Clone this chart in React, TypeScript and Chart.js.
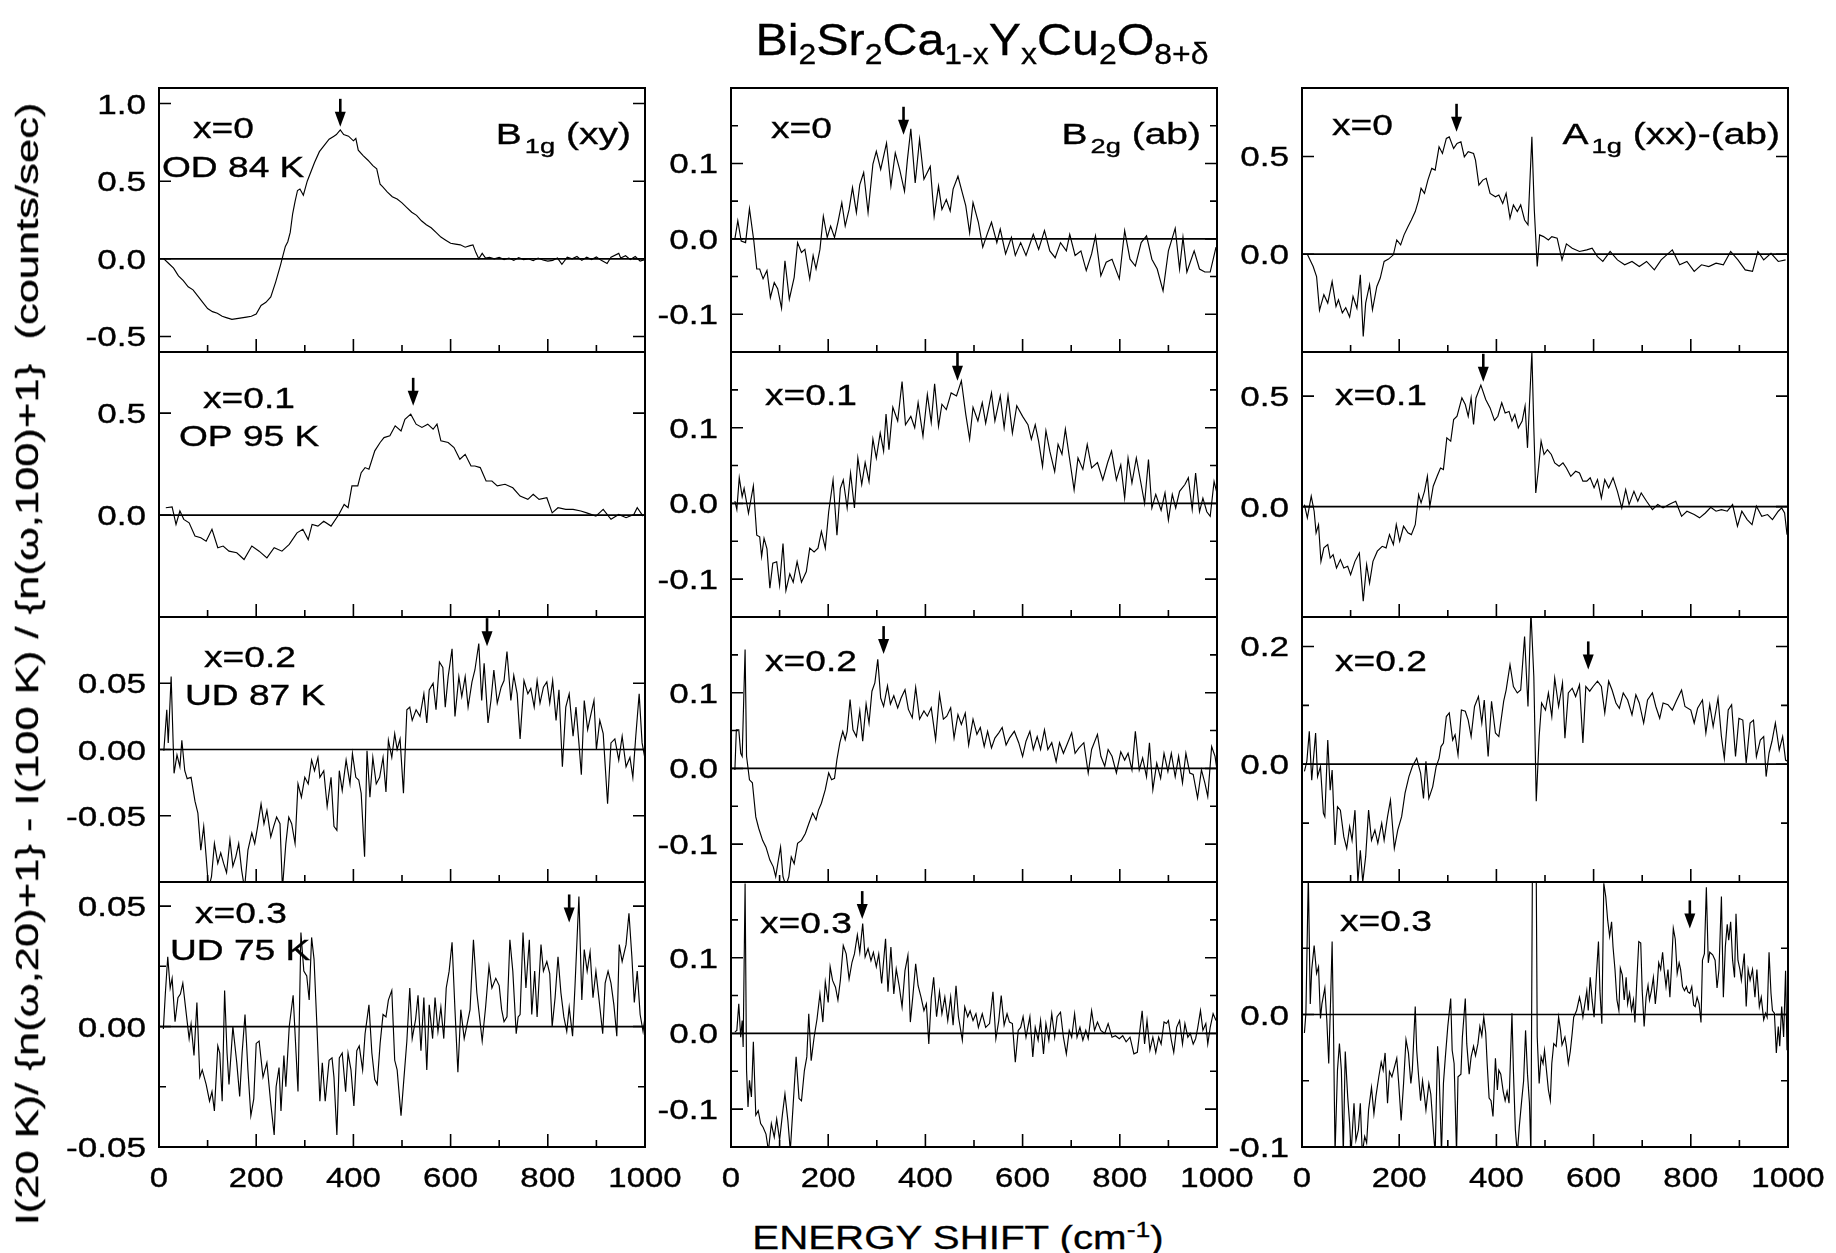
import React, { useEffect, useRef } from "react";
import { Chart, registerables } from "chart.js";
Chart.register(...registerables);

const FONT = '"Liberation Sans", Arial, Helvetica, sans-serif';

// ---------- axis ticks ----------
const ENERGY_TICKS = [0, 100, 200, 300, 400, 500, 600, 700, 800, 900, 1000];
const ENERGY_LABELS = [0, 200, 400, 600, 800, 1000];

const Y_TICKS_B1G_X00 = [1.0, 0.5, 0.0, -0.5];
const Y_TICKS_B2G = [0.1, 0.0, -0.1];
const Y_MINOR_B2G = [0.15, 0.05, -0.05];
const Y_TICKS_A1G_X00 = [0.5, 0.0];
const Y_TICKS_B1G_X01 = [0.5, 0.0];
const Y_TICKS_A1G_X01 = [0.5, 0.0];
const Y_TICKS_B1G_X02 = [0.05, 0.0, -0.05];
const Y_TICKS_A1G_X02 = [0.2, 0.0];
const Y_MINOR_A1G_X02 = [0.1, -0.1];
const Y_TICKS_B1G_X03 = [0.05, 0.0, -0.05];
const Y_MINOR_B1G_X03 = [0.025, -0.025];
const Y_TICKS_A1G_X03 = [0.0, -0.1];
const Y_MINOR_A1G_X03 = [0.05, -0.05];

// ---------- spectra [energy shift cm-1, intensity] ----------
const B1G_X00: number[][] = [[10,0],[20,-0.03],[30,-0.06],[40,-0.11],[50,-0.14],[60,-0.18],[70,-0.2],[80,-0.24],[90,-0.28],[100,-0.32],[110,-0.34],[120,-0.35],[130,-0.37],[140,-0.38],[150,-0.39],[160,-0.385],[170,-0.38],[180,-0.375],[190,-0.37],[200,-0.355],[210,-0.3],[220,-0.28],[230,-0.245],[240,-0.15],[250,-0.04],[255,0.02],[260,0.08],[265,0.11],[270,0.17],[275,0.29],[280,0.37],[285,0.44],[290,0.45],[297,0.41],[305,0.5],[310,0.54],[320,0.62],[330,0.69],[340,0.73],[350,0.77],[360,0.79],[365,0.8],[373,0.83],[380,0.8],[390,0.79],[400,0.76],[405,0.775],[410,0.7],[420,0.665],[430,0.635],[440,0.6],[448,0.58],[455,0.48],[460,0.465],[470,0.43],[480,0.4],[490,0.385],[500,0.36],[510,0.33],[520,0.3],[530,0.28],[540,0.245],[550,0.22],[560,0.2],[570,0.17],[580,0.14],[590,0.12],[600,0.1],[610,0.095],[620,0.09],[630,0.075],[640,0.085],[646,0.09],[652,0.04],[658,0.0],[665,0.035],[672,0.005],[680,0.01],[690,0.0],[700,0.01],[710,-0.005],[720,0.005],[730,-0.01],[740,0.008],[750,-0.005],[760,0.0],[770,-0.012],[780,0.005],[790,-0.008],[800,-0.015],[810,-0.01],[820,0.005],[829,-0.035],[840,0.01],[850,0.0],[860,0.015],[870,-0.01],[880,0.01],[890,-0.005],[900,0.012],[910,-0.01],[922,-0.03],[930,0.01],[946,0.035],[950,0.005],[960,0.02],[970,-0.005],[980,0.015],[990,-0.015],[1000,-0.005]];

const B2G_X00: number[][] = [[8,0],[14,0.024],[21,-0.003],[30,-0.005],[38,0.04],[47,-0.003],[53,-0.04],[59,-0.04],[66,-0.053],[74,-0.042],[81,-0.078],[89,-0.058],[96,-0.066],[104,-0.092],[111,-0.029],[120,-0.08],[130,-0.051],[137,-0.005],[145,-0.018],[152,-0.014],[162,-0.053],[169,-0.022],[175,-0.04],[183,-0.014],[190,0.03],[198,0.002],[205,0.017],[213,0.002],[220,0.022],[228,0.048],[235,0.017],[243,0.039],[250,0.068],[258,0.035],[265,0.072],[273,0.088],[282,0.035],[292,0.099],[299,0.116],[308,0.092],[320,0.127],[329,0.07],[338,0.114],[347,0.092],[357,0.063],[363,0.105],[370,0.146],[379,0.074],[388,0.132],[397,0.079],[410,0.096],[418,0.03],[427,0.07],[434,0.039],[443,0.052],[451,0.037],[457,0.066],[467,0.083],[476,0.061],[483,0.044],[491,0.008],[498,0.048],[509,0.022],[518,-0.011],[528,0.008],[536,0.022],[547,-0.005],[554,0.013],[565,-0.02],[577,0.002],[585,-0.022],[596,-0.005],[607,-0.022],[622,0.006],[633,-0.014],[645,0.011],[656,-0.016],[667,-0.025],[678,-0.005],[690,-0.016],[697,0.006],[708,-0.022],[720,-0.016],[731,-0.042],[742,-0.02],[750,0.004],[761,-0.049],[772,-0.031],[784,-0.027],[799,-0.053],[810,0.011],[821,-0.027],[832,-0.036],[844,-0.005],[855,0.004],[866,-0.027],[877,-0.04],[889,-0.069],[900,-0.016],[914,0.014],[923,-0.04],[930,0.002],[938,-0.044],[953,-0.016],[964,-0.04],[975,-0.044],[986,-0.044],[998,-0.011]];

const A1G_X00: number[][] = [[11,0.0],[23,-0.063],[30,-0.114],[36,-0.287],[45,-0.207],[53,-0.25],[62,-0.14],[70,-0.267],[75,-0.233],[83,-0.3],[90,-0.274],[98,-0.321],[105,-0.216],[113,-0.276],[120,-0.105],[126,-0.42],[131,-0.25],[139,-0.156],[145,-0.284],[154,-0.165],[161,-0.122],[169,-0.037],[178,-0.025],[188,-0.003],[195,0.073],[203,0.048],[210,0.099],[218,0.141],[225,0.175],[233,0.218],[240,0.277],[245,0.337],[252,0.311],[259,0.379],[267,0.439],[274,0.43],[282,0.549],[289,0.515],[297,0.592],[303,0.6],[312,0.541],[319,0.566],[327,0.575],[334,0.498],[342,0.524],[353,0.515],[357,0.481],[364,0.354],[372,0.379],[379,0.388],[387,0.311],[398,0.294],[405,0.303],[413,0.26],[420,0.311],[428,0.184],[435,0.252],[443,0.218],[450,0.252],[458,0.175],[465,0.15],[473,0.6],[478,0.226],[484,-0.063],[489,0.099],[497,0.09],[507,0.073],[514,0.09],[525,0.082],[535,-0.029],[544,0.053],[556,0.031],[571,0.014],[586,0.022],[597,0.031],[608,-0.012],[619,-0.037],[634,0.014],[649,-0.029],[664,-0.054],[679,-0.037],[694,-0.063],[709,-0.037],[725,-0.08],[739,-0.029],[762,0.022],[777,-0.054],[792,-0.037],[807,-0.088],[822,-0.054],[837,-0.063],[852,-0.046],[867,-0.054],[882,0.014],[897,-0.029],[912,-0.08],[927,-0.088],[938,0.014],[950,-0.029],[965,0.005],[980,-0.037],[995,-0.029]];

const B1G_X01: number[][] = [[14,0.036],[27,0.04],[35,-0.046],[43,0.02],[51,-0.021],[62,-0.038],[74,-0.103],[86,-0.111],[97,-0.128],[109,-0.07],[121,-0.16],[132,-0.152],[144,-0.177],[160,-0.185],[175,-0.218],[191,-0.152],[206,-0.177],[222,-0.21],[237,-0.16],[253,-0.177],[268,-0.144],[284,-0.087],[296,-0.07],[307,-0.12],[315,-0.046],[327,-0.054],[339,-0.03],[354,-0.054],[370,0.003],[381,0.052],[389,0.036],[397,0.143],[409,0.143],[416,0.208],[424,0.233],[432,0.225],[444,0.315],[455,0.356],[463,0.38],[475,0.389],[486,0.438],[498,0.413],[506,0.47],[518,0.495],[529,0.446],[541,0.43],[553,0.446],[564,0.421],[572,0.446],[580,0.364],[595,0.356],[607,0.331],[619,0.274],[630,0.298],[642,0.241],[650,0.241],[661,0.233],[673,0.167],[685,0.167],[696,0.143],[712,0.151],[728,0.134],[743,0.093],[759,0.077],[770,0.102],[782,0.077],[798,0.085],[809,0.011],[821,0.036],[837,0.028],[852,0.028],[868,0.02],[880,0.011],[899,-0.005],[914,0.028],[930,-0.021],[946,0.003],[961,-0.013],[977,0.003],[984,0.036],[996,-0.005]];

const B2G_X01: number[][] = [[8,0.003],[12,-0.008],[17,0.034],[23,0.009],[27,0.02],[36,-0.013],[46,0.023],[53,-0.042],[59,-0.044],[63,-0.07],[68,-0.046],[74,-0.06],[80,-0.112],[86,-0.079],[94,-0.077],[100,-0.108],[107,-0.053],[113,-0.115],[121,-0.093],[128,-0.104],[136,-0.077],[145,-0.104],[155,-0.09],[162,-0.059],[171,-0.064],[179,-0.059],[186,-0.037],[194,-0.059],[201,-0.011],[210,0.031],[218,-0.042],[225,0.02],[231,0.031],[239,-0.006],[246,0.04],[254,-0.006],[261,0.06],[269,0.025],[276,0.054],[284,0.029],[292,0.085],[299,0.06],[307,0.093],[314,0.069],[319,0.118],[325,0.071],[333,0.127],[343,0.109],[352,0.161],[359,0.104],[370,0.115],[378,0.1],[385,0.133],[395,0.089],[404,0.144],[412,0.107],[419,0.158],[427,0.102],[434,0.131],[443,0.124],[453,0.146],[464,0.142],[474,0.162],[483,0.118],[491,0.085],[498,0.127],[508,0.109],[517,0.133],[524,0.106],[536,0.146],[543,0.109],[554,0.142],[562,0.1],[570,0.142],[579,0.093],[588,0.129],[600,0.115],[611,0.104],[618,0.085],[626,0.104],[633,0.082],[641,0.049],[648,0.096],[656,0.069],[666,0.042],[673,0.078],[681,0.065],[688,0.098],[696,0.062],[706,0.018],[714,0.06],[724,0.045],[733,0.078],[742,0.047],[754,0.054],[765,0.031],[775,0.054],[783,0.069],[793,0.031],[802,0.051],[810,0.007],[817,0.06],[825,0.027],[834,0.06],[844,0.025],[851,0.0],[859,0.058],[866,-0.006],[874,0.012],[885,-0.009],[893,0.014],[900,-0.022],[908,0.012],[915,-0.006],[923,0.016],[934,0.025],[941,0.034],[949,-0.008],[956,0.04],[964,-0.011],[971,0.007],[979,-0.011],[986,-0.017],[994,0.029],[999,0.016]];

const A1G_X01: number[][] = [[5,0.009],[11,-0.051],[19,0.047],[25,-0.021],[29,-0.119],[34,-0.082],[39,-0.248],[45,-0.187],[53,-0.172],[58,-0.233],[64,-0.218],[71,-0.278],[79,-0.24],[86,-0.278],[94,-0.27],[100,-0.308],[109,-0.248],[118,-0.21],[126,-0.429],[133,-0.263],[139,-0.346],[146,-0.248],[155,-0.202],[165,-0.18],[173,-0.187],[180,-0.127],[188,-0.172],[194,-0.082],[201,-0.157],[209,-0.089],[218,-0.119],[225,-0.127],[233,-0.082],[240,0.054],[245,0.017],[252,0.069],[258,0.137],[263,0.0],[270,0.092],[278,0.137],[285,0.175],[291,0.168],[298,0.311],[306,0.296],[312,0.394],[319,0.409],[329,0.492],[336,0.462],[342,0.409],[348,0.492],[353,0.372],[358,0.492],[368,0.55],[378,0.485],[387,0.447],[396,0.39],[403,0.409],[411,0.47],[418,0.424],[426,0.431],[432,0.387],[438,0.417],[445,0.356],[453,0.387],[459,0.455],[464,0.266],[468,0.462],[473,0.7],[477,0.356],[481,0.062],[486,0.16],[492,0.296],[498,0.236],[505,0.258],[513,0.236],[520,0.198],[529,0.183],[537,0.198],[544,0.175],[553,0.137],[563,0.16],[571,0.152],[578,0.115],[586,0.115],[593,0.13],[601,0.085],[608,0.122],[616,0.039],[623,0.122],[631,0.085],[640,0.13],[649,0.069],[658,-0.006],[666,0.077],[673,0.009],[683,0.069],[691,0.024],[698,0.062],[709,0.024],[721,-0.014],[732,0.009],[743,-0.006],[755,0.009],[769,0.024],[781,-0.044],[792,-0.021],[807,-0.036],[818,-0.051],[830,-0.029],[841,-0.003],[852,-0.021],[863,-0.014],[875,-0.021],[886,0.009],[896,-0.089],[905,-0.021],[916,-0.059],[926,-0.082],[935,0.002],[946,-0.044],[958,-0.036],[968,-0.059],[980,-0.021],[987,-0.006],[993,-0.029],[998,-0.127]];

const B1G_X02: number[][] = [[10,-0.001],[16,0.03],[19,0.005],[25,0.055],[31,-0.018],[37,-0.004],[43,-0.013],[47,0.007],[53,-0.016],[58,-0.022],[66,-0.021],[74,-0.039],[80,-0.048],[86,-0.076],[92,-0.058],[97,-0.081],[102,-0.105],[108,-0.096],[114,-0.071],[121,-0.086],[127,-0.078],[133,-0.086],[139,-0.093],[146,-0.068],[152,-0.088],[158,-0.081],[164,-0.071],[170,-0.091],[176,-0.105],[183,-0.076],[191,-0.063],[197,-0.071],[203,-0.058],[210,-0.041],[216,-0.056],[222,-0.046],[230,-0.066],[236,-0.058],[242,-0.051],[249,-0.056],[254,-0.105],[261,-0.071],[267,-0.051],[273,-0.056],[280,-0.071],[286,-0.026],[293,-0.036],[300,-0.021],[307,-0.026],[314,-0.008],[320,-0.016],[327,-0.006],[331,-0.021],[339,-0.016],[346,-0.043],[354,-0.021],[360,-0.058],[366,-0.061],[371,-0.016],[377,-0.031],[385,-0.008],[393,-0.026],[398,-0.003],[405,-0.021],[411,-0.023],[416,-0.033],[423,-0.081],[428,-0.001],[434,-0.036],[440,-0.006],[447,-0.026],[454,-0.021],[461,-0.006],[467,-0.032],[472,0.007],[479,-0.006],[485,0.012],[490,0.0],[496,0.008],[503,-0.033],[510,0.03],[516,0.032],[521,0.022],[529,0.03],[537,0.025],[545,0.042],[551,0.02],[556,0.045],[564,0.05],[570,0.03],[577,0.066],[584,0.062],[589,0.032],[595,0.055],[603,0.076],[609,0.025],[617,0.055],[623,0.04],[630,0.055],[636,0.032],[644,0.051],[650,0.06],[658,0.08],[664,0.037],[669,0.065],[677,0.02],[683,0.037],[689,0.06],[696,0.035],[704,0.047],[710,0.052],[716,0.074],[724,0.037],[730,0.056],[737,0.042],[743,0.008],[751,0.052],[759,0.042],[765,0.046],[772,0.032],[778,0.052],[784,0.035],[791,0.047],[798,0.051],[804,0.035],[810,0.052],[817,0.022],[823,0.045],[830,-0.013],[837,0.032],[844,0.042],[852,0.01],[858,0.032],[864,0.005],[869,-0.019],[875,0.037],[882,0.015],[889,0.027],[895,0.037],[900,0.0],[907,0.022],[914,0.012],[923,-0.041],[930,0.005],[938,0.008],[946,-0.008],[953,0.01],[961,-0.013],[969,-0.006],[975,-0.021],[981,0.01],[988,0.042],[994,0.005],[1000,-0.007]];

const B2G_X02: number[][] = [[8,-0.002],[11,0.051],[16,0.051],[20,0.02],[23,0.016],[29,0.157],[32,0.016],[38,-0.015],[44,-0.019],[51,-0.064],[57,-0.079],[65,-0.095],[72,-0.104],[80,-0.121],[87,-0.13],[92,-0.143],[98,-0.119],[102,-0.104],[107,-0.143],[113,-0.155],[119,-0.143],[124,-0.117],[130,-0.126],[137,-0.099],[145,-0.095],[153,-0.086],[160,-0.073],[168,-0.059],[175,-0.068],[180,-0.055],[186,-0.046],[194,-0.028],[201,-0.006],[207,-0.015],[213,-0.013],[218,0.012],[224,0.034],[230,0.049],[235,0.038],[239,0.049],[245,0.091],[251,0.051],[258,0.042],[265,0.076],[271,0.036],[278,0.085],[284,0.06],[290,0.102],[296,0.113],[302,0.144],[308,0.093],[314,0.082],[322,0.109],[328,0.085],[335,0.096],[343,0.08],[350,0.093],[358,0.104],[365,0.078],[373,0.067],[380,0.107],[388,0.065],[397,0.076],[404,0.069],[412,0.08],[421,0.038],[429,0.098],[437,0.065],[444,0.069],[452,0.08],[459,0.04],[467,0.071],[474,0.058],[482,0.073],[489,0.031],[498,0.065],[506,0.045],[513,0.054],[521,0.029],[528,0.049],[536,0.027],[543,0.04],[551,0.047],[558,0.054],[566,0.031],[573,0.04],[583,0.049],[592,0.034],[600,0.016],[607,0.036],[615,0.049],[622,0.025],[630,0.042],[637,0.025],[645,0.051],[652,0.025],[660,0.034],[669,0.009],[676,0.034],[684,0.02],[691,0.031],[701,0.047],[708,0.02],[716,0.027],[726,0.034],[735,-0.006],[742,0.025],[754,0.045],[761,0.016],[769,0.003],[776,0.025],[784,0.016],[793,-0.006],[802,0.022],[810,0.011],[817,0.02],[825,-0.002],[832,0.049],[840,-0.002],[847,0.014],[855,-0.011],[861,0.034],[868,-0.028],[876,0.007],[884,-0.013],[891,0.02],[899,-0.004],[906,0.02],[914,-0.011],[921,0.016],[929,-0.019],[936,0.02],[944,-0.006],[951,-0.008],[960,-0.039],[968,-0.002],[975,-0.019],[981,-0.037],[989,0.029],[996,0.016],[1000,-0.002]];

const A1G_X02: number[][] = [[5,-0.012],[10,0.005],[15,0.056],[20,-0.027],[28,0.053],[32,-0.021],[38,-0.004],[44,-0.083],[47,-0.089],[53,0.041],[58,-0.044],[62,-0.01],[68,-0.137],[73,-0.072],[79,-0.078],[86,-0.123],[92,-0.143],[98,-0.106],[103,-0.129],[109,-0.078],[115,-0.2],[120,-0.146],[125,-0.2],[131,-0.157],[137,-0.078],[143,-0.129],[150,-0.112],[156,-0.134],[164,-0.1],[169,-0.129],[176,-0.089],[182,-0.061],[190,-0.143],[197,-0.112],[205,-0.089],[212,-0.049],[220,-0.021],[227,-0.004],[236,0.01],[244,-0.015],[250,-0.058],[255,0.005],[261,-0.058],[269,-0.038],[276,-0.004],[282,0.01],[286,0.03],[291,0.036],[297,0.081],[303,0.087],[310,0.041],[315,0.05],[321,0.016],[328,0.092],[336,0.09],[342,0.075],[348,0.047],[355,0.098],[363,0.115],[370,0.07],[375,0.109],[383,0.013],[390,0.107],[398,0.053],[405,0.047],[415,0.107],[420,0.126],[428,0.169],[435,0.132],[443,0.121],[450,0.126],[458,0.217],[465,0.098],[471,0.26],[477,0.149],[482,-0.063],[488,0.047],[493,0.104],[501,0.092],[507,0.121],[514,0.081],[520,0.146],[528,0.098],[536,0.138],[541,0.044],[548,0.121],[556,0.129],[563,0.115],[571,0.135],[578,0.036],[584,0.132],[592,0.124],[599,0.132],[608,0.141],[616,0.132],[623,0.087],[631,0.141],[638,0.126],[646,0.104],[653,0.095],[661,0.121],[670,0.109],[679,0.084],[687,0.118],[694,0.104],[703,0.07],[711,0.109],[721,0.121],[728,0.098],[736,0.078],[743,0.104],[753,0.101],[762,0.092],[770,0.107],[781,0.126],[788,0.098],[800,0.092],[807,0.07],[814,0.095],[824,0.109],[831,0.053],[839,0.101],[846,0.064],[856,0.112],[863,0.047],[869,0.01],[877,0.092],[884,0.101],[892,0.013],[899,0.078],[907,0.075],[914,0.002],[922,0.07],[929,0.075],[935,0.013],[943,0.041],[950,0.047],[955,-0.021],[961,0.019],[967,0.039],[974,0.07],[982,0.024],[989,0.047],[995,0.007],[999,0.005]];

const B1G_X03: number[][] = [[9,-0.001],[13,0.0135],[18,0.029],[23,0.016],[27,0.02],[33,0.002],[39,0.012],[44,0.0135],[49,0.018],[54,0.009],[62,-0.005],[66,0.001],[72,-0.012],[78,0.01],[84,-0.021],[89,-0.018],[97,-0.024],[104,-0.031],[109,-0.027],[114,-0.035],[121,-0.008],[125,-0.011],[130,-0.031],[135,0.015],[140,-0.011],[144,-0.024],[152,0.0],[160,-0.015],[166,-0.029],[171,-0.011],[177,0.005],[183,-0.018],[189,-0.037],[195,-0.03],[200,-0.007],[206,-0.006],[214,-0.021],[222,-0.015],[230,-0.032],[237,-0.045],[241,-0.025],[247,-0.017],[251,-0.035],[257,-0.012],[261,-0.025],[268,0.0],[276,0.013],[282,-0.011],[286,-0.027],[292,0.039],[298,0.023],[304,0.021],[309,0.011],[314,0.037],[319,0.028],[325,0.0],[331,-0.031],[336,-0.015],[342,-0.031],[350,-0.014],[356,-0.013],[360,-0.021],[366,-0.045],[371,-0.013],[377,-0.011],[384,-0.027],[389,-0.011],[395,-0.018],[401,-0.033],[407,-0.01],[412,-0.008],[419,-0.018],[424,-0.003],[432,0.009],[438,-0.011],[444,-0.022],[449,-0.024],[455,-0.007],[461,0.005],[467,0.004],[472,0.011],[479,0.015],[485,-0.014],[490,-0.018],[498,-0.037],[503,-0.024],[510,-0.006],[516,0.016],[521,-0.005],[528,0.003],[533,0.013],[539,-0.01],[545,0.012],[551,-0.018],[556,0.009],[563,-0.005],[568,0.012],[574,-0.002],[580,0.008],[586,-0.005],[591,0.016],[597,0.023],[603,0.035],[609,0.007],[615,-0.019],[621,0.007],[628,-0.005],[634,0.001],[640,0.007],[647,0.036],[654,0.014],[659,0.005],[665,-0.006],[672,0.008],[679,0.025],[685,0.016],[693,0.02],[700,0.017],[705,0.007],[710,0.002],[716,0.004],[722,0.036],[728,0.023],[735,-0.003],[739,0.004],[743,0.005],[749,0.039],[755,0.016],[762,0.036],[767,0.005],[773,0.023],[778,0.004],[786,0.034],[791,0.023],[798,0.027],[804,0.022],[809,0.0],[815,0.012],[821,0.029],[827,0.014],[833,0.004],[839,-0.002],[844,0.008],[851,-0.004],[856,0.017],[864,0.054],[870,0.011],[875,0.032],[881,0.023],[887,0.031],[893,0.012],[899,0.023],[905,0.012],[913,-0.003],[918,0.018],[924,0.023],[930,0.018],[936,0.009],[942,-0.004],[947,0.034],[953,0.027],[961,0.034],[967,0.047],[973,0.029],[978,0.01],[984,0.023],[990,0.005],[996,-0.002],[1000,0.004]];

const B2G_X03: number[][] = [[8,0.002],[12,0.004],[16,0.039],[20,-0.005],[23,0.017],[25,-0.018],[29,0.198],[32,-0.049],[35,-0.097],[38,-0.062],[42,-0.084],[46,-0.011],[51,-0.108],[56,-0.102],[61,-0.119],[66,-0.124],[72,-0.133],[77,-0.155],[83,-0.119],[89,-0.137],[94,-0.113],[100,-0.141],[106,-0.106],[111,-0.08],[117,-0.115],[122,-0.155],[128,-0.093],[134,-0.031],[140,-0.086],[145,-0.089],[151,-0.049],[156,-0.031],[160,0.026],[165,-0.036],[171,-0.005],[177,0.019],[183,0.052],[189,0.015],[194,0.068],[200,0.041],[204,0.088],[209,0.07],[215,0.061],[220,0.044],[225,0.07],[231,0.116],[237,0.105],[243,0.072],[249,0.094],[254,0.105],[260,0.13],[265,0.107],[271,0.145],[276,0.101],[282,0.112],[288,0.096],[293,0.107],[299,0.088],[304,0.105],[310,0.066],[318,0.125],[323,0.055],[329,0.114],[335,0.052],[340,0.085],[346,0.063],[352,0.035],[358,0.083],[364,0.103],[369,0.015],[374,0.048],[380,0.092],[385,0.063],[391,0.048],[397,0.03],[402,0.039],[407,-0.014],[412,0.046],[417,0.074],[423,0.022],[429,0.055],[434,0.026],[440,0.048],[446,0.017],[452,0.048],[457,0.011],[463,0.063],[468,0.022],[476,-0.009],[481,0.035],[487,0.022],[492,0.03],[498,0.017],[504,0.026],[509,0.008],[517,0.026],[524,0.008],[532,0.013],[539,0.055],[545,-0.007],[551,0.017],[556,0.05],[562,0.011],[568,0.026],[573,0.015],[579,0.013],[585,-0.038],[591,0.004],[596,0.008],[601,0.022],[607,-0.005],[615,0.022],[621,-0.031],[626,0.008],[632,-0.009],[637,0.017],[643,-0.027],[648,0.013],[654,-0.009],[660,0.026],[666,-0.005],[671,0.022],[678,0.028],[684,-0.005],[690,-0.027],[696,0.004],[701,-0.005],[707,0.026],[712,-0.005],[718,0.008],[724,-0.009],[730,0.004],[735,-0.007],[742,0.03],[748,0.004],[754,0.015],[761,0.004],[769,0.0],[776,0.013],[784,-0.005],[791,-0.003],[799,-0.007],[806,-0.003],[813,-0.011],[821,-0.005],[829,-0.027],[836,-0.025],[842,0.008],[846,0.03],[851,-0.014],[856,0.017],[862,-0.022],[868,-0.005],[874,-0.025],[880,-0.005],[885,-0.014],[891,0.015],[896,0.013],[900,0.017],[906,-0.009],[911,-0.025],[917,0.008],[923,0.017],[929,-0.014],[934,0.013],[940,-0.005],[945,0.0],[951,-0.014],[956,-0.007],[960,0.006],[966,0.03],[971,0.004],[977,0.013],[981,-0.014],[986,0.008],[992,0.026],[998,0.017]];

const A1G_X03: number[][] = [[5,-0.014],[8,0.001],[13,0.105],[17,0.008],[20,0.034],[25,0.052],[30,0.031],[34,0.036],[38,-0.003],[41,0.008],[47,0.02],[51,-0.004],[55,-0.037],[59,0.013],[62,0.055],[65,-0.017],[68,-0.105],[73,-0.042],[77,-0.022],[81,-0.042],[85,-0.105],[89,-0.028],[94,-0.062],[98,-0.082],[101,-0.105],[107,-0.067],[111,-0.095],[116,-0.087],[120,-0.067],[124,-0.105],[129,-0.092],[133,-0.097],[137,-0.072],[143,-0.055],[148,-0.075],[152,-0.062],[158,-0.047],[163,-0.036],[167,-0.042],[171,-0.029],[176,-0.067],[180,-0.043],[185,-0.047],[190,-0.04],[195,-0.033],[199,-0.052],[204,-0.08],[209,-0.052],[214,-0.019],[219,-0.029],[224,-0.052],[227,-0.042],[233,0.006],[236,-0.027],[240,-0.047],[244,-0.065],[248,-0.05],[252,-0.062],[255,-0.072],[261,-0.052],[265,-0.06],[270,-0.086],[274,-0.105],[279,-0.024],[282,-0.042],[287,-0.105],[291,-0.052],[295,-0.032],[300,-0.009],[306,0.012],[309,-0.027],[313,-0.037],[318,-0.105],[321,-0.047],[327,-0.045],[330,-0.017],[336,0.012],[339,-0.022],[344,-0.045],[348,-0.032],[353,-0.024],[357,-0.031],[362,-0.022],[366,-0.009],[370,-0.016],[374,-0.002],[378,-0.014],[381,-0.037],[385,-0.063],[389,-0.065],[393,-0.077],[398,-0.033],[402,-0.057],[405,-0.042],[409,-0.045],[414,-0.058],[418,-0.065],[422,-0.058],[426,-0.067],[432,0.001],[435,-0.042],[439,-0.087],[443,-0.105],[447,-0.085],[452,-0.065],[456,-0.05],[460,-0.012],[464,-0.045],[468,-0.067],[471,-0.105],[474,0.105],[478,0.105],[482,0.105],[484,-0.017],[488,-0.052],[492,-0.032],[496,-0.037],[499,-0.027],[503,-0.042],[507,-0.057],[511,-0.065],[514,-0.037],[518,-0.022],[523,-0.024],[528,-0.002],[532,-0.012],[535,-0.023],[541,-0.017],[544,-0.024],[548,-0.037],[552,-0.028],[556,-0.014],[559,-0.002],[565,0.003],[571,0.013],[574,0.008],[578,-0.002],[582,0.008],[586,0.018],[589,0.003],[593,0.028],[597,0.011],[601,-0.002],[606,0.031],[610,0.055],[613,0.018],[617,-0.007],[621,0.099],[625,0.089],[629,0.071],[633,0.059],[637,0.07],[640,0.051],[644,0.034],[648,0.011],[652,0.003],[655,0.035],[659,0.03],[663,0.011],[667,0.028],[670,0.008],[674,0.016],[678,0.003],[682,0.011],[685,-0.006],[689,0.026],[693,0.055],[697,0.054],[700,0.018],[704,-0.009],[708,0.013],[712,0.022],[715,0.011],[719,0.018],[723,0.028],[727,0.008],[731,0.023],[734,0.039],[738,0.034],[742,0.047],[745,0.034],[749,0.021],[753,0.034],[757,0.013],[760,0.034],[764,0.065],[768,0.057],[772,0.031],[776,0.039],[779,0.034],[783,0.021],[787,0.018],[791,0.021],[794,0.017],[798,0.016],[802,0.021],[806,0.007],[809,0.006],[813,0.013],[817,0.008],[821,-0.006],[824,0.041],[828,0.046],[832,0.096],[836,0.039],[839,0.047],[845,0.045],[850,0.041],[854,0.02],[858,0.034],[863,0.089],[867,0.013],[871,0.051],[875,0.068],[878,0.056],[882,0.07],[886,0.041],[890,0.028],[893,0.076],[897,0.041],[901,0.034],[904,0.026],[910,0.046],[914,0.006],[918,0.034],[922,0.026],[927,0.034],[932,0.013],[936,0.034],[941,0.006],[945,0.013],[950,-0.004],[954,0.001],[957,-0.002],[961,0.047],[965,0.016],[968,0.003],[972,0.001],[976,-0.029],[980,-0.009],[983,-0.024],[987,0.006],[991,-0.017],[995,0.033],[998,-0.027]];

// peak-marker arrows [energy, intensity at tip]
const ARROWS: number[][] = [
  [373, 0.85], [355, 0.138], [318, 0.626],
  [523, 0.536], [466, 0.162], [373, 0.565],
  [675, 0.078], [314, 0.151], [589, 0.161],
  [844, 0.0432], [270, 0.151], [798, 0.065],
];

const DOPING_LABELS = ["x=0", "x=0.1", "x=0.2", "x=0.3"];
const SAMPLE_LABELS = ["OD 84 K", "OP 95 K", "UD 87 K", "UD 75 K"];

// ---------- layout ----------
const COL_LEFT = [159, 731, 1302];
const ROW_TOP = [88, 352, 617, 882];
const ROW_H = [264, 265, 265, 265];
const PLOT_W = 486;
const PAD_L = 120, PAD_T = 20, PAD_R = 44;
const TICK_FS = 27, TICK_SX = 1.3;
const XTICK_FS = 27, XTICK_SX = 1.22;
const ANN_FS = 29, ANN_SX = 1.28;
const TTL_FS = 30, TTL_SUB_FS = 21, TTL_SX = 1.3;

type TitlePart = { t: string; sub?: boolean };
type PanelCfg = {
  row: number; col: number; data: number[][];
  yMin: number; yMax: number; major: number[]; minor: number[]; dec: number;
  texts: { t: string; x: number; y: number }[];
  title?: { parts: TitlePart[]; right: number; y: number };
};

const B1G_TITLE: TitlePart[] = [{ t: "B" }, { t: "1g", sub: true }, { t: " (xy)" }];
const B2G_TITLE: TitlePart[] = [{ t: "B" }, { t: "2g", sub: true }, { t: " (ab)" }];
const A1G_TITLE: TitlePart[] = [{ t: "A" }, { t: "1g", sub: true }, { t: " (xx)-(ab)" }];

const PANELS: PanelCfg[] = [
  { row: 0, col: 0, data: B1G_X00, yMin: -0.6, yMax: 1.1, major: Y_TICKS_B1G_X00, minor: [], dec: 1,
    texts: [{ t: DOPING_LABELS[0], x: 34, y: 50 }, { t: SAMPLE_LABELS[0], x: 3, y: 89 }], title: { parts: B1G_TITLE, right: 472, y: 56 } },
  { row: 0, col: 1, data: B2G_X00, yMin: -0.15, yMax: 0.2, major: Y_TICKS_B2G, minor: Y_MINOR_B2G, dec: 1,
    texts: [{ t: DOPING_LABELS[0], x: 40, y: 50 }], title: { parts: B2G_TITLE, right: 470, y: 56 } },
  { row: 0, col: 2, data: A1G_X00, yMin: -0.5, yMax: 0.85, major: Y_TICKS_A1G_X00, minor: [], dec: 1,
    texts: [{ t: DOPING_LABELS[0], x: 30, y: 47 }], title: { parts: A1G_TITLE, right: 478, y: 56 } },
  { row: 1, col: 0, data: B1G_X01, yMin: -0.5, yMax: 0.8, major: Y_TICKS_B1G_X01, minor: [], dec: 1,
    texts: [{ t: DOPING_LABELS[1], x: 44, y: 56 }, { t: SAMPLE_LABELS[1], x: 20, y: 94 }] },
  { row: 1, col: 1, data: B2G_X01, yMin: -0.15, yMax: 0.2, major: Y_TICKS_B2G, minor: Y_MINOR_B2G, dec: 1,
    texts: [{ t: DOPING_LABELS[1], x: 34, y: 53 }] },
  { row: 1, col: 2, data: A1G_X01, yMin: -0.5, yMax: 0.7, major: Y_TICKS_A1G_X01, minor: [], dec: 1,
    texts: [{ t: DOPING_LABELS[1], x: 33, y: 53 }] },
  { row: 2, col: 0, data: B1G_X02, yMin: -0.1, yMax: 0.1, major: Y_TICKS_B1G_X02, minor: [], dec: 2,
    texts: [{ t: DOPING_LABELS[2], x: 45, y: 50 }, { t: SAMPLE_LABELS[2], x: 26, y: 88 }] },
  { row: 2, col: 1, data: B2G_X02, yMin: -0.15, yMax: 0.2, major: Y_TICKS_B2G, minor: Y_MINOR_B2G, dec: 1,
    texts: [{ t: DOPING_LABELS[2], x: 34, y: 54 }] },
  { row: 2, col: 2, data: A1G_X02, yMin: -0.2, yMax: 0.25, major: Y_TICKS_A1G_X02, minor: Y_MINOR_A1G_X02, dec: 1,
    texts: [{ t: DOPING_LABELS[2], x: 33, y: 54 }] },
  { row: 3, col: 0, data: B1G_X03, yMin: -0.05, yMax: 0.06, major: Y_TICKS_B1G_X03, minor: Y_MINOR_B1G_X03, dec: 2,
    texts: [{ t: DOPING_LABELS[3], x: 36, y: 41 }, { t: SAMPLE_LABELS[3], x: 11, y: 78 }] },
  { row: 3, col: 1, data: B2G_X03, yMin: -0.15, yMax: 0.2, major: Y_TICKS_B2G, minor: Y_MINOR_B2G, dec: 1,
    texts: [{ t: DOPING_LABELS[3], x: 29, y: 51 }] },
  { row: 3, col: 2, data: A1G_X03, yMin: -0.1, yMax: 0.1, major: Y_TICKS_A1G_X03, minor: Y_MINOR_A1G_X03, dec: 1,
    texts: [{ t: DOPING_LABELS[3], x: 38, y: 49 }] },
];

function textWidth(ctx: CanvasRenderingContext2D, text: string, size: number, sx: number) {
  ctx.save();
  ctx.font = `${size}px ${FONT}`;
  const w = ctx.measureText(text).width * sx;
  ctx.restore();
  return w;
}

function drawStretched(ctx: CanvasRenderingContext2D, text: string, x: number, y: number, size: number, sx: number, align: CanvasTextAlign) {
  ctx.save();
  ctx.font = `${size}px ${FONT}`;
  ctx.textAlign = align;
  ctx.textBaseline = "alphabetic";
  ctx.translate(x, y);
  ctx.scale(sx, 1);
  ctx.fillText(text, 0, 0);
  ctx.lineWidth = 0.35;
  ctx.strokeText(text, 0, 0);
  const w = ctx.measureText(text).width * sx;
  ctx.restore();
  return w;
}

function PanelChart({ cfg, index }: { cfg: PanelCfg; index: number }) {
  const ref = useRef<HTMLCanvasElement>(null);
  const bottomRow = cfg.row === 3;
  const padB = bottomRow ? 60 : 20;
  const plotH = ROW_H[cfg.row];
  const W = PAD_L + PLOT_W + PAD_R;
  const H = PAD_T + plotH + padB;
  const left = COL_LEFT[cfg.col] - PAD_L;
  const top = ROW_TOP[cfg.row] - PAD_T;

  useEffect(() => {
    const canvas = ref.current!;
    const arrow = ARROWS[index];
    const deco = {
      id: "deco",
      beforeDatasetsDraw(chart: any) {
        const { ctx, chartArea: a, scales } = chart;
        const y0 = scales.y.getPixelForValue(0);
        ctx.save();
        ctx.strokeStyle = "#000";
        ctx.lineWidth = 1.7;
        ctx.beginPath();
        ctx.moveTo(a.left, y0);
        ctx.lineTo(a.right, y0);
        ctx.stroke();
        ctx.restore();
      },
      afterDatasetsDraw(chart: any) {
        const { ctx, chartArea: a, scales } = chart;
        const xs = scales.x, ys = scales.y;
        ctx.save();
        ctx.strokeStyle = "#000";
        ctx.fillStyle = "#000";
        ctx.lineWidth = 2;
        ctx.strokeRect(a.left, a.top, a.right - a.left, a.bottom - a.top);
        ctx.lineWidth = 1.6;
        for (const t of xs.ticks) {
          const px = xs.getPixelForValue(t.value);
          const len = t.value % 200 === 0 ? 13 : 7;
          ctx.beginPath();
          ctx.moveTo(px, a.bottom);
          ctx.lineTo(px, a.bottom - len);
          ctx.stroke();
        }
        for (const t of ys.ticks) {
          const py = ys.getPixelForValue(t.value);
          const isMajor = cfg.major.some((m) => Math.abs(m - t.value) < 1e-9);
          const len = isMajor ? 12 : 7;
          ctx.beginPath();
          ctx.moveTo(a.left, py);
          ctx.lineTo(a.left + len, py);
          ctx.moveTo(a.right, py);
          ctx.lineTo(a.right - len, py);
          ctx.stroke();
          if (isMajor) {
            drawStretched(ctx, t.value.toFixed(cfg.dec), a.left - 13, py + 10, TICK_FS, TICK_SX, "right");
          }
        }
        if (bottomRow) {
          for (const v of ENERGY_LABELS) {
            const px = xs.getPixelForValue(v);
            drawStretched(ctx, String(v), px, a.bottom + 40, XTICK_FS, XTICK_SX, "center");
          }
        }
        const ax = xs.getPixelForValue(arrow[0]);
        const ay = ys.getPixelForValue(arrow[1]);
        ctx.lineWidth = 2.6;
        ctx.beginPath();
        ctx.moveTo(ax, ay - 28);
        ctx.lineTo(ax, ay - 12);
        ctx.stroke();
        ctx.beginPath();
        ctx.moveTo(ax - 5.5, ay - 15);
        ctx.lineTo(ax + 5.5, ay - 15);
        ctx.lineTo(ax, ay);
        ctx.closePath();
        ctx.fill();
        for (const tx of cfg.texts) {
          drawStretched(ctx, tx.t, a.left + tx.x, a.top + tx.y, ANN_FS, ANN_SX, "left");
        }
        if (cfg.title) {
          const parts = cfg.title.parts;
          let total = 0;
          for (const p of parts) total += (p.sub ? 3 : 0) + textWidth(ctx, p.t, p.sub ? TTL_SUB_FS : TTL_FS, TTL_SX);
          let cx = a.left + cfg.title.right - total;
          for (const p of parts) {
            if (p.sub) {
              cx += 3;
              cx += drawStretched(ctx, p.t, cx, a.top + cfg.title.y + 9, TTL_SUB_FS, TTL_SX, "left");
            } else {
              cx += drawStretched(ctx, p.t, cx, a.top + cfg.title.y, TTL_FS, TTL_SX, "left");
            }
          }
        }
        ctx.restore();
      },
    };

    const yTicks = [...cfg.major, ...cfg.minor].sort((p, q) => p - q);
    const chart = new Chart(canvas, {
      type: "line",
      data: {
        datasets: [
          {
            data: cfg.data.map(([ex, ey]) => ({ x: ex, y: ey })),
            borderColor: "#000",
            borderWidth: 1.15,
            pointRadius: 0,
            tension: 0,
            fill: false,
            clip: 0,
          } as any,
        ],
      },
      options: {
        animation: false,
        responsive: false,
        devicePixelRatio: 1,
        events: [],
        layout: { padding: { left: 0, top: PAD_T, right: PAD_R, bottom: 0 } },
        plugins: { legend: { display: false }, tooltip: { enabled: false } },
        scales: {
          x: {
            type: "linear",
            min: 0,
            max: 1000,
            afterBuildTicks: (s: any) => { s.ticks = ENERGY_TICKS.map((v) => ({ value: v })); },
            afterFit: (s: any) => { s.height = padB; },
            ticks: { display: false },
            grid: { display: false },
            border: { display: false },
          },
          y: {
            type: "linear",
            min: cfg.yMin,
            max: cfg.yMax,
            afterBuildTicks: (s: any) => { s.ticks = yTicks.map((v) => ({ value: v })); },
            afterFit: (s: any) => { s.width = PAD_L; },
            ticks: { display: false },
            grid: { display: false },
            border: { display: false },
          },
        },
      } as any,
      plugins: [deco],
    });
    return () => chart.destroy();
  }, []);

  return (
    <canvas
      ref={ref}
      width={W}
      height={H}
      style={{ position: "absolute", left, top, width: W, height: H }}
    />
  );
}

const sub: React.CSSProperties = { fontSize: "0.66em", verticalAlign: "-0.32em" };

export default function App() {
  return (
    <div style={{ position: "absolute", left: 0, top: 0, width: 1836, height: 1253, background: "#fff", overflow: "hidden", fontFamily: FONT, color: "#000" }}>
      {PANELS.map((p, i) => (
        <PanelChart key={i} cfg={p} index={i} />
      ))}
      <div style={{ position: "absolute", left: 982, top: 14, fontSize: 44, lineHeight: "52px", whiteSpace: "nowrap", transform: "translateX(-50%) scaleX(1.1)", WebkitTextStroke: "0.3px #000" }}>
        Bi<span style={sub}>2</span>Sr<span style={sub}>2</span>Ca<span style={sub}>1-x</span>Y<span style={sub}>x</span>Cu<span style={sub}>2</span>O<span style={sub}>8+δ</span>
      </div>
      <div style={{ position: "absolute", left: 958, top: 1211, fontSize: 33, lineHeight: "38px", whiteSpace: "nowrap", transform: "translateX(-50%) scaleX(1.22)", WebkitTextStroke: "0.3px #000" }}>
        ENERGY SHIFT (cm<span style={{ fontSize: "0.66em", verticalAlign: "0.55em" }}>-1</span>)
      </div>
      <div style={{ position: "absolute", left: 27, top: 664, fontSize: 32, lineHeight: "38px", whiteSpace: "nowrap", transform: "translate(-50%, -50%) rotate(-90deg) scaleX(1.36)", WebkitTextStroke: "0.3px #000" }}>
        I(20 K)/ {"{"}n(ω,20)+1{"}"} - I(100 K) / {"{"}n(ω,100)+1{"}"}&nbsp;&nbsp;(counts/sec)
      </div>
    </div>
  );
}
